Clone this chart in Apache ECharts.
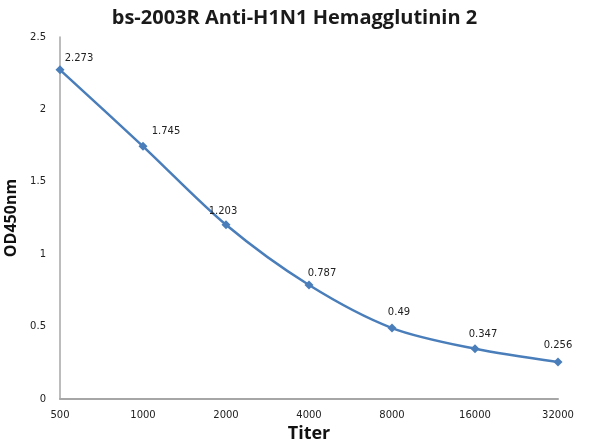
<!DOCTYPE html>
<html>
<head>
<meta charset="utf-8">
<script src="https://cdn.jsdelivr.net/npm/echarts@6/dist/echarts.min.js"></script>
<style>
  html, body { margin: 0; padding: 0; background: #fff; }
  #chart { width: 589px; height: 441px; }
</style>
</head>
<body>
<div id="chart"></div>
<script>
// -- Data --
const titers = ['500', '1000', '2000', '4000', '8000', '16000', '32000'];
const od450 = [2.273, 1.745, 1.203, 0.787, 0.49, 0.347, 0.256];
const yTicks = [0, 0.5, 1, 1.5, 2, 2.5];

// label nudges so the numbers sit where Excel put them
const labelNudge = [[19, 3], [23, 0], [-3, 1], [13, 3], [7, -1], [8, 0], [0, -2]];

const LINE = '#4a7ebb';
const AXIS = '#a6a6a6';
const BOLD = '"Open Sans", "DejaVu Sans", sans-serif';
const SMALL = '"DejaVu Sans", Verdana, sans-serif';

const chart = echarts.init(document.getElementById('chart'), null, { renderer: 'canvas' });

chart.setOption({
  animation: false,
  title: {
    text: 'bs-2003R Anti-H1N1 Hemagglutinin 2',
    left: 'center',
    top: 3,
    textStyle: { fontFamily: BOLD, fontWeight: 'bold', fontSize: 20, color: '#1a1a1a' }
  },
  // fixed plot box, no auto-shrinking for the axis names
  grid: { left: 60, right: 31, top: 37, bottom: 42, outerBoundsMode: 'none', containLabel: false },
  xAxis: {
    type: 'category',
    data: titers,
    boundaryGap: false,
    name: 'Titer',
    nameLocation: 'middle',
    nameGap: 24,
    nameTextStyle: { fontFamily: BOLD, fontWeight: 'bold', fontSize: 18, color: '#111' },
    axisLine: { lineStyle: { color: AXIS, width: 2 } },
    axisTick: { show: false },
    axisLabel: { fontFamily: SMALL, fontSize: 10, color: '#222', margin: 11 },
    splitLine: { show: false }
  },
  yAxis: {
    type: 'value',
    min: yTicks[0],
    max: yTicks[yTicks.length - 1],
    interval: 0.5,
    name: 'OD450nm',
    nameLocation: 'middle',
    nameGap: 40,
    nameTextStyle: { fontFamily: BOLD, fontWeight: 'bold', fontSize: 16, color: '#111' },
    axisLine: { show: true, lineStyle: { color: AXIS, width: 1.5 } },
    axisTick: { show: false },
    axisLabel: { fontFamily: SMALL, fontSize: 10, color: '#222', margin: 14 },
    splitLine: { show: false }
  },
  series: [{
    type: 'line',
    smooth: 0.3,
    data: od450.map((v, i) => ({
      value: v,
      label: { offset: labelNudge[i] }
    })),
    symbol: 'diamond',
    symbolSize: 9,
    itemStyle: { color: LINE },
    lineStyle: { color: LINE, width: 2.5 },
    label: {
      show: true,
      position: 'top',
      distance: 5,
      fontFamily: SMALL,
      fontSize: 10,
      color: '#222'
    }
  }]
});
</script>
</body>
</html>
